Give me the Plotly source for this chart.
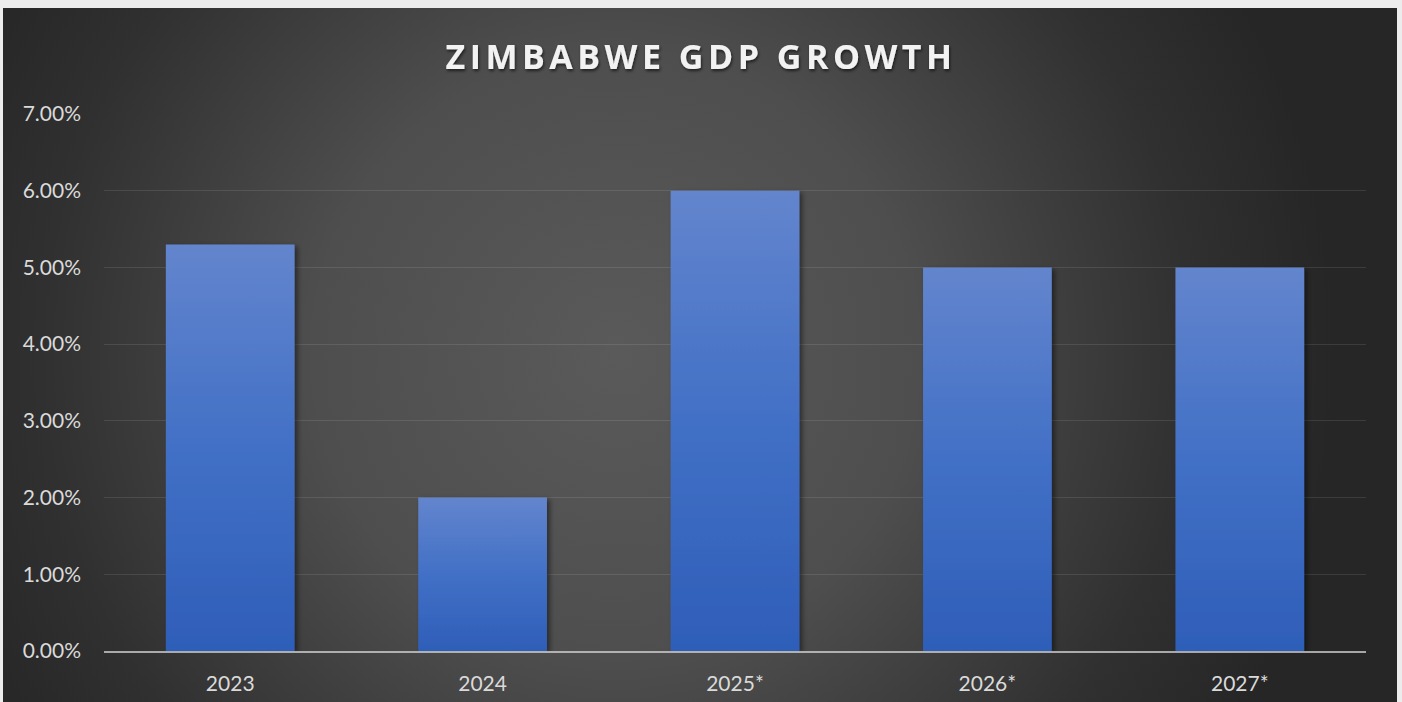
import plotly.graph_objects as go

# Zimbabwe real GDP growth (2025-2027 are projections)
years = ["2023", "2024", "2025*", "2026*", "2027*"]
gdp_growth = [0.053, 0.020, 0.060, 0.050, 0.050]
y_tick_values = [0.00, 0.01, 0.02, 0.03, 0.04, 0.05, 0.06, 0.07]

TEXT = "#dadada"
FONT = "Lato"

fig = go.Figure(
    go.Bar(
        x=years,
        y=gdp_growth,
        marker=dict(color="#4672c4", line=dict(width=0)),
        hoverinfo="skip",
    )
)

fig.update_layout(
    width=1402,
    height=702,
    margin=dict(l=104, r=36, t=114, b=51, autoexpand=False),
    paper_bgcolor="rgba(0,0,0,0)",
    plot_bgcolor="rgba(0,0,0,0)",
    bargap=0.49,
    showlegend=False,
    hovermode=False,
    title=dict(
        text="<b>ZIMBABWE GDP GROWTH</b>",
        x=0.5,
        xanchor="center",
        y=0.918,
        yanchor="middle",
        font=dict(family="Open Sans", size=34, color="#f2f2f2"),
    ),
)

fig.update_xaxes(
    automargin=False,
    showgrid=False,
    showline=True,
    linecolor="rgba(217,217,217,0.72)",
    linewidth=2,
    ticks="",
    tickfont=dict(family=FONT, size=21, color=TEXT),
    ticklabelstandoff=13,
)

fig.update_yaxes(
    automargin=False,
    range=[0, 0.07],
    tickvals=y_tick_values,
    tickformat=".2%",
    showgrid=True,
    gridcolor="rgba(255,255,255,0.10)",
    gridwidth=1,
    zeroline=False,
    showline=False,
    ticks="",
    tickfont=dict(family=FONT, size=21, color=TEXT),
    ticklabelstandoff=22,
)

# Page styling: light frame, dark radial backdrop, gradient bars with soft shadow
post_js = r"""
var gd = document.getElementById('{plot_id}');
document.documentElement.style.background = '#ececec';
document.body.style.margin = '0';
document.body.style.background = '#ececec';
gd.style.background = 'radial-gradient(circle 720px at 44% 50%, #5a5a5a 0%, #4e4e4e 42%, #303030 80%, #262626 100%) 3px 8px / 1394px 694px no-repeat, #ececec';

var ns = 'http://www.w3.org/2000/svg';
var svg = gd.querySelector('.main-svg');
var defs = svg.querySelector('defs');
if (!defs) { defs = document.createElementNS(ns, 'defs'); svg.insertBefore(defs, svg.firstChild); }

var grad = document.createElementNS(ns, 'linearGradient');
grad.setAttribute('id', 'barFill');
grad.setAttribute('x1', '0'); grad.setAttribute('y1', '0');
grad.setAttribute('x2', '0'); grad.setAttribute('y2', '1');
[['0', '#6385cd'], ['0.5', '#4270c6'], ['1', '#2e5eb8']].forEach(function (s) {
  var st = document.createElementNS(ns, 'stop');
  st.setAttribute('offset', s[0]);
  st.setAttribute('stop-color', s[1]);
  grad.appendChild(st);
});
defs.appendChild(grad);

function shadow(id, dx, dy, sd, op) {
  var f = document.createElementNS(ns, 'filter');
  f.setAttribute('id', id);
  f.setAttribute('x', '-20%'); f.setAttribute('y', '-20%');
  f.setAttribute('width', '140%'); f.setAttribute('height', '140%');
  var d = document.createElementNS(ns, 'feDropShadow');
  d.setAttribute('dx', dx); d.setAttribute('dy', dy);
  d.setAttribute('stdDeviation', sd);
  d.setAttribute('flood-color', '#000');
  d.setAttribute('flood-opacity', op);
  f.appendChild(d);
  defs.appendChild(f);
}
shadow('barShadow', 3, 2, 2.5, 0.45);
shadow('titleShadow', 1, 2, 1.5, 0.6);

gd.querySelectorAll('.barlayer .point path').forEach(function (p) {
  p.style.fill = 'url(#barFill)';
  p.setAttribute('filter', 'url(#barShadow)');
});

var t = gd.querySelector('.gtitle');
if (t) {
  t.style.letterSpacing = '4.5px';
  t.setAttribute('filter', 'url(#titleShadow)');
}
"""

fig.write_html("out.html", post_script=post_js, config={"displayModeBar": False})
